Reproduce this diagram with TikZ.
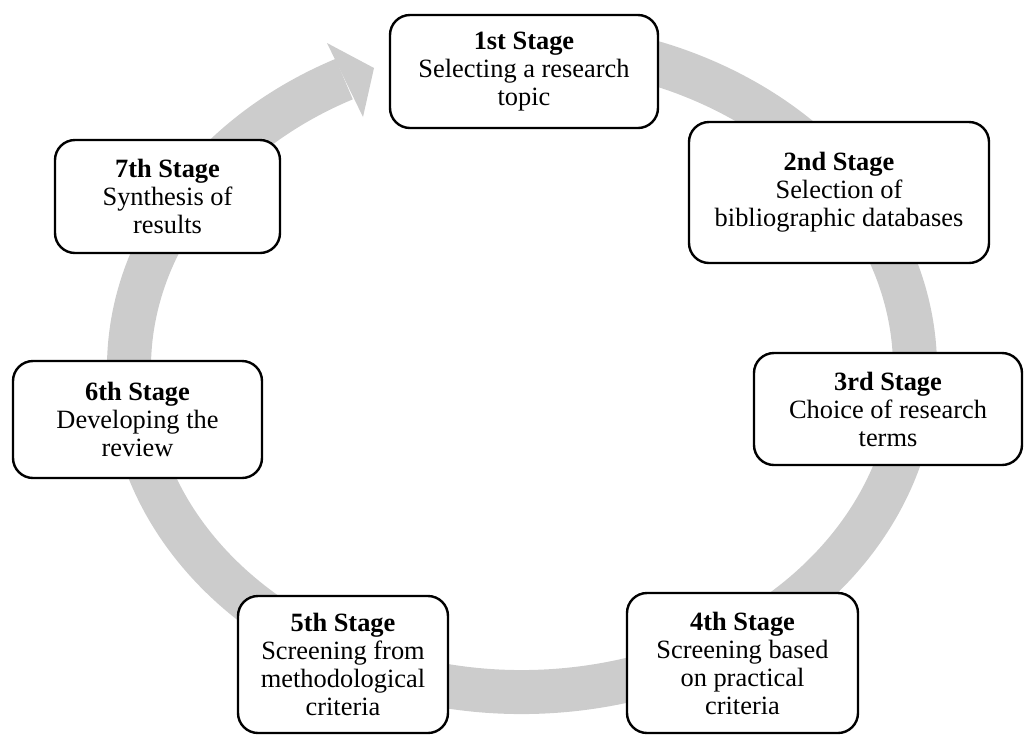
\documentclass[tikz,border=0pt]{standalone}
\usepackage{fontspec}
\setmainfont{Liberation Serif}

\begin{document}
\begin{tikzpicture}[x=0.5pt,y=-0.5pt,
		stage/.style={draw, line width=1.2pt, rounded corners=10pt, fill=white, align=center, inner sep=0pt, font=\fontsize{13.2}{14}\selectfont},
		cycle/.style={black!20}]
		\useasboundingbox (0,0) rectangle (1024,735);
		%%%%% CYCLE %%%%%
		\draw[cycle, line width=22pt] (522,368) ++(-100:393 and 324) arc (-100:243.1:393 and 324);
		\fill[cycle] (327,43) -- (374,68) -- (363,117) -- cycle;
		
		%%%%% STAGES %%%%%
		\node[stage, minimum width=134pt, minimum height=56.5pt] (st1) at (524,71.5) {\textbf{1st Stage}\\Selecting a research\\topic};
		\node[stage, minimum width=150pt, minimum height=70.5pt] (st2) at (839,192.5) {\textbf{2nd Stage}\\Selection of\\bibliographic databases};
		\node[stage, minimum width=134pt, minimum height=56pt] (st3) at (888,409) {\textbf{3rd Stage}\\Choice of research\\terms};
		\node[stage, minimum width=115.5pt, minimum height=70pt] (st4) at (742.5,663) {\textbf{4th Stage}\\Screening based\\on practical\\criteria};
		\node[stage, minimum width=105pt, minimum height=68.5pt] (st5) at (343,664.5) {\textbf{5th Stage}\\Screening from\\methodological\\criteria};
		\node[stage, minimum width=124.5pt, minimum height=58.5pt] (st6) at (137.5,419.5) {\textbf{6th Stage}\\Developing the\\review};
		\node[stage, minimum width=112.5pt, minimum height=56.5pt] (st7) at (167.5,196.5) {\textbf{7th Stage}\\Synthesis of\\results};
	\end{tikzpicture}
\end{document}
